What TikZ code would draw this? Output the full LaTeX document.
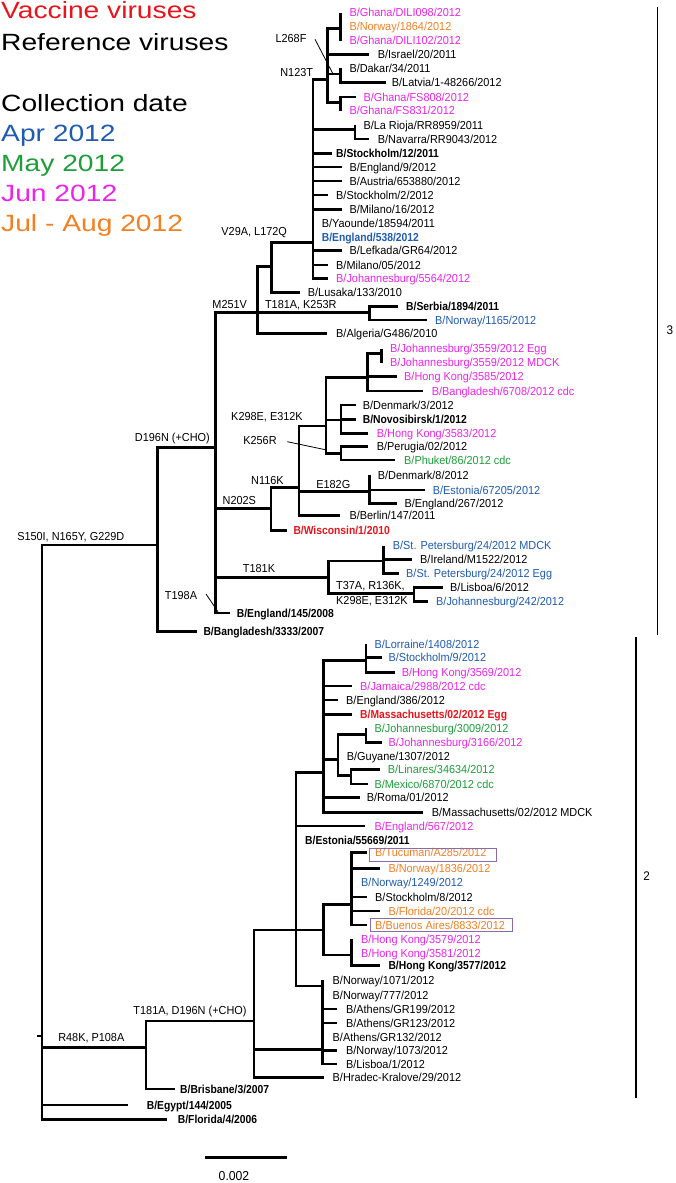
\documentclass[tikz,border=0pt]{standalone}
\usepackage{fontspec}
\setmainfont{Liberation Sans}
\newfontfamily\labf{Liberation Sans}[FakeStretch=0.94]
\newfontfamily\labbf{Liberation Sans}[FakeStretch=0.89]
\newfontfamily\legf{Liberation Sans}[FakeStretch=1.2]
\definecolor{vred}{HTML}{E8141C}
\definecolor{vblue}{HTML}{1F5BB0}
\definecolor{vgreen}{HTML}{1E9E3A}
\definecolor{vmag}{HTML}{EB24EB}
\definecolor{vorg}{HTML}{F28023}
\definecolor{boxc}{HTML}{8A6AA8}
\newcommand\leafx[7]{\coordinate (#2) at (#3,#4); \draw[br] (#1) |- (#2); \node[#6] (#2l) at (#5,#4) {#7};}
\newcommand\edg[2]{\draw[br] (#1) |- (#2);}
\begin{document}
\begin{tikzpicture}[x=1pt,y=-1pt,
  br/.style={line width=2.6pt,line join=miter},
  lab/.style={font=\labf\fontsize{11.6}{13}\selectfont,anchor=base west,inner sep=0pt,yshift=-4.1pt},
  bl/.style={lab,font=\labbf\fontsize{11.6}{13}\selectfont\bfseries},
  mut/.style={font=\labf\fontsize{11.6}{13}\selectfont,anchor=base,inner sep=0pt,yshift=-4.1pt},
  leg/.style={font=\legf\fontsize{23.5}{28}\selectfont,anchor=base west,inner sep=0pt},
  ptr/.style={line width=0.8pt},
  clade/.style={line width=1.2pt},
  hl/.style={draw=boxc,line width=0.9pt}]
\useasboundingbox (0,0) rectangle (675,1183);
% legend
\node[leg,vred] (lg1) at (1,18) {Vaccine viruses};
\node[leg] (lg2) at (1,50) {Reference viruses};
\node[leg] (lg3) at (1,111) {Collection date};
\node[leg,vblue] (lg4) at (1,141.5) {Apr 2012};
\node[leg,vgreen] (lg5) at (1,171.5) {May 2012};
\node[leg,vmag] (lg6) at (1,201.5) {Jun 2012};
\node[leg,vorg] (lg7) at (1,231.5) {Jul - Aug 2012};
% internal nodes
\coordinate (root) at (42,1036);
\coordinate (rstub) at (37,1036);
\coordinate (s150) at (157.5,545);
\coordinate (d196) at (215.5,447.7);
\coordinate (m251) at (257.3,312.7);
\coordinate (v29) at (271.7,266.7);
\coordinate (n123) at (313,242.7);
\coordinate (l268) at (327.3,79.3);
\coordinate (ghn) at (340.7,28.3);
\coordinate (dkn) at (340.7,74);
\coordinate (fsn) at (340.7,102.7);
\coordinate (lrn) at (355,129.3);
\coordinate (srn) at (369.5,312.7);
\coordinate (n202) at (271,508.3);
\coordinate (n116) at (299,487.3);
\coordinate (k298) at (326,426);
\coordinate (jhn) at (367.3,377.3);
\coordinate (j59) at (381.7,353.3);
\coordinate (dnn) at (341,420);
\coordinate (prn) at (341,453.3);
\coordinate (e182) at (369.3,491.7);
\coordinate (t181k) at (328.3,577.7);
\coordinate (stp) at (383.3,561);
\coordinate (lsn) at (414,593.3);
\coordinate (r48) at (146,1047.3);
\coordinate (t181a) at (254,1021);
\coordinate (c296) at (296,930);
\coordinate (ma) at (323.3,772.7);
\coordinate (lor) at (366,660.7);
\coordinate (jg) at (338,759.3);
\coordinate (j09) at (366,734.3);
\coordinate (lin) at (351,775.7);
\coordinate (th) at (323.3,930);
\coordinate (tuc) at (351.7,904.3);
\coordinate (hkn) at (351.7,955);
\coordinate (pol) at (322.5,986);
\coordinate (pol2) at (322.5,1049.3);
% root
\draw[br] (rstub) -- (root);
\edg{root}{s150} \edg{root}{r48}
\leafx{root}{egy}{128.3}{1105}{146.7}{bl}{B/Egypt/144/2005}
\leafx{root}{flo}{166.7}{1119.5}{177.7}{bl}{B/Florida/4/2006}
% clade 3
\edg{s150}{d196}
\leafx{s150}{bg33}{196.7}{631.7}{203.3}{bl}{B/Bangladesh/3333/2007}
\edg{d196}{m251} \edg{d196}{n202} \edg{d196}{t181k}
\leafx{d196}{e145}{230}{613}{236.7}{bl}{B/England/145/2008}
\edg{m251}{v29} \edg{m251}{srn}
\leafx{m251}{alg}{326.7}{333.3}{336}{lab}{B/Algeria/G486/2010}
\edg{v29}{n123}
\leafx{v29}{lus}{300}{292.7}{307.7}{lab}{B/Lusaka/133/2010}
\edg{n123}{l268} \edg{n123}{lrn}
\leafx{n123}{st12}{331.7}{153.7}{336}{bl}{B/Stockholm/12/2011}
\leafx{n123}{en9}{341.7}{167}{349.3}{lab}{B/England/9/2012}
\leafx{n123}{aus}{341.7}{181}{349.3}{lab}{B/Austria/653880/2012}
\leafx{n123}{st2}{328.3}{195}{336}{lab}{B/Stockholm/2/2012}
\leafx{n123}{mi16}{341.7}{209.3}{349.3}{lab}{B/Milano/16/2012}
\leafx{n123}{yao}{313}{223.3}{321.7}{lab}{B/Yaounde/18594/2011}
\leafx{n123}{en538}{313}{237.3}{321.7}{bl,vblue}{B/England/538/2012}
\leafx{n123}{lef}{341.7}{250.7}{349.3}{lab}{B/Lefkada/GR64/2012}
\leafx{n123}{mi05}{328.3}{265}{336}{lab}{B/Milano/05/2012}
\leafx{n123}{jo5564}{328.3}{278.3}{336}{lab,vmag}{B/Johannesburg/5564/2012}
\edg{l268}{ghn} \edg{l268}{dkn} \edg{l268}{fsn}
\leafx{l268}{isr}{369}{54.3}{377.7}{lab}{B/Israel/20/2011}
\leafx{ghn}{gh98}{340.7}{12.7}{349.3}{lab,vmag}{B/Ghana/DILI098/2012}
\leafx{ghn}{no1864}{340.7}{26.7}{349.3}{lab,vorg}{B/Norway/1864/2012}
\leafx{ghn}{gh102}{340.7}{40.7}{349.3}{lab,vmag}{B/Ghana/DILI102/2012}
\leafx{dkn}{dak}{340.7}{68}{349.3}{lab}{B/Dakar/34/2011}
\leafx{dkn}{lat}{386}{82.5}{391.7}{lab}{B/Latvia/1-48266/2012}
\leafx{fsn}{fs808}{356}{97}{363.3}{lab,vmag}{B/Ghana/FS808/2012}
\leafx{fsn}{fs831}{340.7}{110.5}{349.3}{lab,vmag}{B/Ghana/FS831/2012}
\leafx{lrn}{lar}{355}{125}{363.3}{lab}{B/La Rioja/RR8959/2011}
\leafx{lrn}{nav}{369.3}{139}{377.7}{lab}{B/Navarra/RR9043/2012}
\leafx{srn}{ser}{398.3}{306.7}{406}{bl}{B/Serbia/1894/2011}
\leafx{srn}{no1165}{426.7}{320}{435}{lab,vblue}{B/Norway/1165/2012}
\edg{n202}{n116}
\leafx{n202}{wis}{286.7}{530.5}{293.3}{bl,vred}{B/Wisconsin/1/2010}
\edg{n116}{k298} \edg{n116}{e182}
\leafx{n116}{ber}{340}{515.7}{349.3}{lab}{B/Berlin/147/2011}
\leafx{e182}{de8}{369.3}{475}{377.7}{lab}{B/Denmark/8/2012}
\leafx{e182}{es67}{425}{490}{432.7}{lab,vblue}{B/Estonia/67205/2012}
\leafx{e182}{en267}{396.7}{503.3}{404.3}{lab}{B/England/267/2012}
\edg{k298}{jhn} \edg{k298}{dnn} \edg{k298}{prn}
\edg{jhn}{j59}
\leafx{jhn}{hk85}{396.7}{376.7}{404}{lab,vmag}{B/Hong Kong/3585/2012}
\leafx{jhn}{bg67}{423.3}{391}{431.7}{lab,vmag}{B/Bangladesh/6708/2012 cdc}
\leafx{j59}{j59e}{381.7}{348.5}{390}{lab,vmag}{B/Johannesburg/3559/2012 Egg}
\leafx{j59}{j59m}{381.7}{362.5}{390}{lab,vmag}{B/Johannesburg/3559/2012 MDCK}
\leafx{dnn}{de3}{355.7}{405}{362.7}{lab}{B/Denmark/3/2012}
\leafx{dnn}{nov}{355.7}{419.3}{362.7}{bl}{B/Novosibirsk/1/2012}
\leafx{dnn}{hk83}{368.3}{433.3}{376.7}{lab,vmag}{B/Hong Kong/3583/2012}
\leafx{prn}{per}{368.3}{446.7}{376.7}{lab}{B/Perugia/02/2012}
\leafx{prn}{phu}{395}{460}{404}{lab,vgreen}{B/Phuket/86/2012 cdc}
\edg{t181k}{stp} \edg{t181k}{lsn}
\leafx{stp}{spm}{383.3}{545.5}{392.7}{lab,vblue}{B/St. Petersburg/24/2012 MDCK}
\leafx{stp}{ire}{411.7}{559.3}{420}{lab}{B/Ireland/M1522/2012}
\leafx{stp}{spe}{399.3}{573.5}{406}{lab,vblue}{B/St. Petersburg/24/2012 Egg}
\leafx{lsn}{lis6}{442.7}{587.3}{450}{lab}{B/Lisboa/6/2012}
\leafx{lsn}{jo242}{428.3}{601.5}{436}{lab,vblue}{B/Johannesburg/242/2012}
% clade 2
\edg{r48}{t181a}
\leafx{r48}{bri}{175}{1089}{180}{bl}{B/Brisbane/3/2007}
\edg{t181a}{c296} \edg{t181a}{pol2}
\leafx{t181a}{hra}{323.8}{1077.5}{332.5}{lab}{B/Hradec-Kralove/29/2012}
\edg{c296}{ma} \edg{c296}{th} \edg{c296}{pol}
\leafx{c296}{en567}{365}{826}{374.3}{lab,vmag}{B/England/567/2012}
\leafx{c296}{est}{296}{840.7}{305}{bl}{B/Estonia/55669/2011}
\edg{ma}{lor} \edg{ma}{jg}
\leafx{ma}{jam}{351.7}{686}{360}{lab,vmag}{B/Jamaica/2988/2012 cdc}
\leafx{ma}{en386}{338.3}{700}{346}{lab}{B/England/386/2012}
\leafx{ma}{mae}{351.7}{714.3}{360}{bl,vred}{B/Massachusetts/02/2012 Egg}
\leafx{ma}{rom}{360}{797.7}{366.7}{lab}{B/Roma/01/2012}
\leafx{ma}{mam}{423.3}{812.3}{431.7}{lab}{B/Massachusetts/02/2012 MDCK}
\leafx{lor}{lorr}{366}{644}{374.3}{lab,vblue}{B/Lorraine/1408/2012}
\leafx{lor}{st9}{381.7}{657.7}{388.3}{lab,vblue}{B/Stockholm/9/2012}
\leafx{lor}{hk69}{395}{672.3}{401.7}{lab,vmag}{B/Hong Kong/3569/2012}
\edg{jg}{j09} \edg{jg}{lin}
\leafx{jg}{guy}{338}{756.7}{346.7}{lab}{B/Guyane/1307/2012}
\leafx{j09}{jo3009}{366}{728.3}{374.3}{lab,vgreen}{B/Johannesburg/3009/2012}
\leafx{j09}{jo3166}{381.7}{742.3}{388.3}{lab,vmag}{B/Johannesburg/3166/2012}
\leafx{lin}{lina}{380}{769.3}{387.7}{lab,vgreen}{B/Linares/34634/2012}
\leafx{lin}{mex}{368.3}{784}{374.3}{lab,vgreen}{B/Mexico/6870/2012 cdc}
\edg{th}{tuc} \edg{th}{hkn}
\leafx{tuc}{tucu}{366.7}{852.5}{375}{lab,vorg}{B/Tucuman/A285/2012}
\leafx{tuc}{no1836}{380}{868.3}{388.3}{lab,vorg}{B/Norway/1836/2012}
\leafx{tuc}{no1249}{351.7}{882.3}{361}{lab,vblue}{B/Norway/1249/2012}
\leafx{tuc}{st8}{366.7}{897}{375}{lab}{B/Stockholm/8/2012}
\leafx{tuc}{flo20}{380}{911}{388.3}{lab,vorg}{B/Florida/20/2012 cdc}
\leafx{tuc}{bue}{366.7}{925}{375}{lab,vorg}{B/Buenos Aires/8833/2012}
\leafx{hkn}{hk79}{351.7}{939}{361}{lab,vmag}{B/Hong Kong/3579/2012}
\leafx{hkn}{hk81}{351.7}{953.3}{361}{lab,vmag}{B/Hong Kong/3581/2012}
\leafx{hkn}{hk77}{380}{965.7}{388.3}{bl}{B/Hong Kong/3577/2012}
\leafx{pol}{no1071}{322.5}{980}{332.5}{lab}{B/Norway/1071/2012}
\leafx{pol}{no777}{322.5}{995}{332.5}{lab}{B/Norway/777/2012}
\leafx{pol}{gr199}{336.8}{1009}{345.9}{lab}{B/Athens/GR199/2012}
\leafx{pol}{gr123}{336.8}{1023}{345.9}{lab}{B/Athens/GR123/2012}
\leafx{pol}{gr132}{322.5}{1037}{332.5}{lab}{B/Athens/GR132/2012}
\leafx{pol}{no1073}{336.8}{1050.5}{345.9}{lab}{B/Norway/1073/2012}
\leafx{pol}{lis1}{336.8}{1064}{345.9}{lab}{B/Lisboa/1/2012}
% highlight boxes
\draw[hl] (369.3,848) rectangle (496,861);
\draw[hl] (370,918.3) rectangle (512.3,931);
% mutation labels
\node[mut] (mL268) at (291,38.3) {L268F};
\node[mut] (mN123) at (296.7,72.7) {N123T};
\node[mut] (mV29) at (254.2,231.7) {V29A, L172Q};
\node[mut] (mM251) at (229.7,304) {M251V};
\node[mut] (mT181A) at (300.8,304) {T181A, K253R};
\node[mut,anchor=base east] (mD196) at (210,437) {D196N (+CHO)};
\node[mut] (mS150) at (70.8,536.7) {S150I, N165Y, G229D};
\node[mut] (mK298) at (267,416.7) {K298E, E312K};
\node[mut] (mK256) at (260,440.7) {K256R};
\node[mut] (mN116) at (267.5,480) {N116K};
\node[mut] (mE182) at (333.3,484) {E182G};
\node[mut] (mN202) at (239.3,500) {N202S};
\node[mut] (mT181K) at (259,568.3) {T181K};
\node[mut,anchor=base west] (mT37) at (336,585) {T37A, R136K,};
\node[mut,anchor=base west] (mK298b) at (336,600) {K298E, E312K};
\node[mut] (mT198) at (181,595) {T198A};
\node[mut] (mR48) at (91.3,1037.7) {R48K, P108A};
\node[mut] (mT181AD) at (190,1010.7) {T181A, D196N (+CHO)};
% pointer lines
\draw[ptr] (315,39.3) -- (332.7,73.3);
\draw[ptr] (287.3,441.7) -- (326.7,450);
\draw[ptr] (206,594) -- (218,611.7);
% clade brackets
\draw[clade] (657.3,7.3) -- (657.3,635);
\draw[clade] (636,637) -- (636,1098.3);
\node[mut,font=\labf\fontsize{12.5}{14}\selectfont] (c3) at (670,330) {3};
\node[mut,font=\labf\fontsize{12.5}{14}\selectfont] (c2) at (646.7,876.7) {2};
% scale bar
\coordinate (sb1) at (205,1157.3);
\coordinate (sb2) at (286.7,1157.3);
\draw[line width=2.5pt] (sb1) -- (sb2);
\node[mut,font=\labf\fontsize{13}{15}\selectfont] (sbl) at (234,1176) {0.002};
\end{tikzpicture}
\end{document}
